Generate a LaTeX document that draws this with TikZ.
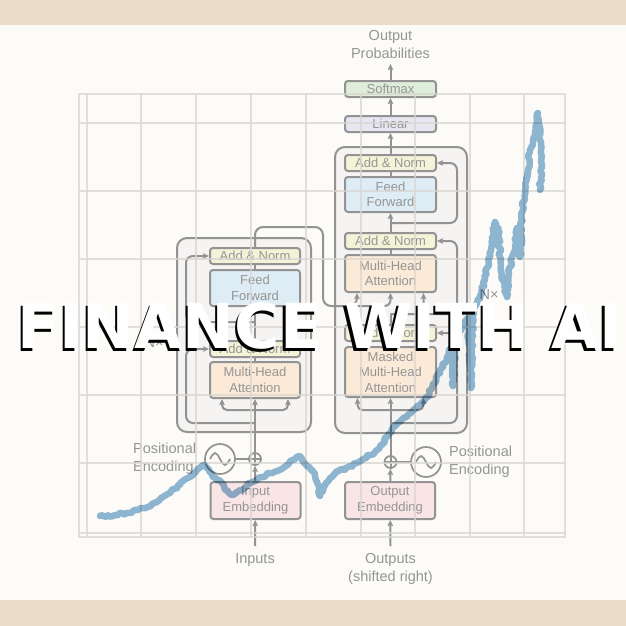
\documentclass[tikz,border=0pt]{standalone}
\usepackage{fontspec}
\setmainfont{Liberation Sans}
\newfontfamily\titlefont{DejaVu Sans}
\usetikzlibrary{arrows.meta,decorations.pathmorphing}
\definecolor{bandc}{HTML}{EADCC6}
\definecolor{bgc}{HTML}{FCFBF8}
\definecolor{linec}{HTML}{939393}
\definecolor{txtc}{HTML}{959595}
\definecolor{outerc}{HTML}{F6F4F2}
\definecolor{anc}{HTML}{F4F3D8}
\definecolor{ffc}{HTML}{DEEDF5}
\definecolor{mhac}{HTML}{FBEAD7}
\definecolor{embc}{HTML}{F9E5E5}
\definecolor{smc}{HTML}{DFEEDB}
\definecolor{linc}{HTML}{E8E7F1}
\definecolor{gridc}{HTML}{D9D6D1}
\definecolor{bluec}{HTML}{90B8D5}
\begin{document}
\begin{tikzpicture}[x=1pt,y=-1pt,
  blk/.style={draw=linec, line width=2.0, rounded corners=3, inner sep=0, align=center,
    font=\fontsize{13}{15.5}\selectfont, text=txtc},
  an/.style={blk, fill=anc, minimum width=90, minimum height=16},
  ff/.style={blk, fill=ffc, minimum width=90, minimum height=36},
  mha/.style={blk, fill=mhac, minimum width=90, minimum height=36},
  emb/.style={blk, fill=embc, minimum width=90, minimum height=37},
  outerbox/.style={draw=linec, fill=outerc, line width=2.0, rounded corners=10},
  ln/.style={draw=linec, line width=2.0},
  arr/.style={draw=linec, line width=2.0, -{Stealth[length=6pt,width=5.5pt,inset=1pt]}},
  lbl/.style={font=\fontsize{14.5}{18}\selectfont, text=txtc, inner sep=0},
  plus/.style={circle, draw=linec, line width=1.7, minimum size=12, inner sep=0, fill=bgc},
  sine/.style={circle, draw=linec, line width=1.7, minimum size=30, inner sep=0},
  gridline/.style={draw=gridc, line width=1.3, opacity=0.75}
]
\useasboundingbox (0,0) rectangle (626,626);
\fill[bgc] (0,0) rectangle (626,626);
\fill[bandc] (0,0) rectangle (626,25);
\fill[bandc] (0,600) rectangle (626,626);

% ---------------- encoder ----------------
\draw[outerbox] (177,238) rectangle (311,432);
\node[an] (eAN2) at (255,256) {Add \& Norm};
\node[ff] (eFF) at (255,288) {Feed\\Forward};
\node[an] (eAN1) at (255,349) {Add \& Norm};
\node[mha] (eMHA) at (255,380) {Multi-Head\\Attention};
\node[emb] (eEmb) at (255.5,500.5) {Input\\Embedding};
\node[plus] (ePlus) at (255,459) {};
\node[sine] (eSin) at (220,459) {};
\node[lbl, anchor=west, align=left] (ePos) at (133,459) {Positional\\Encoding};
\node[lbl] (eInLbl) at (255,560) {Inputs};
\node[lbl] (eN) at (154,343) {N×};
\coordinate (eIn) at (255,546);
\coordinate (eF) at (255,410);
\coordinate (eB1) at (255,423);
\coordinate (eB2) at (255,322);
\coordinate (eTop) at (323,227);

\draw[ln] (ePlus.north) -- (ePlus.south) (ePlus.west) -- (ePlus.east);
\draw[ln, line width=1.7] ([xshift=-10pt]eSin.center) sin ++(5,-6) cos ++(5,6) sin ++(5,6) cos ++(5,-6);
\draw[arr] (eIn) -- (eEmb);
\draw[arr] (eEmb) -- (ePlus);
\draw[ln] (eSin) -- (ePlus);
\draw[arr] (ePlus) -- (eMHA);
\draw[arr, rounded corners=5] (eF) -| ([xshift=-33pt]eMHA.south);
\draw[arr, rounded corners=5] (eF) -| ([xshift=33pt]eMHA.south);
\draw[arr, rounded corners=7] (eB1) -| ([xshift=-23pt]eAN1.west) -- (eAN1.west);
\draw[ln] (eMHA) -- (eAN1);
\draw[arr] (eAN1) -- (eFF);
\draw[arr, rounded corners=7] (eB2) -| ([xshift=-23pt]eAN2.west) -- (eAN2.west);
\draw[ln] (eFF) -- (eAN2);

% ---------------- decoder ----------------
\draw[outerbox] (335,147) rectangle (467,433);
\node[blk, fill=smc, minimum width=91, minimum height=16] (dSoft) at (390.5,89) {Softmax};
\node[blk, fill=linc, minimum width=91, minimum height=16] (dLin) at (390.5,124) {Linear};
\node[an, minimum width=91] (dAN3) at (390.5,163) {Add \& Norm};
\node[ff, minimum width=91, minimum height=35] (dFF) at (390.5,194.5) {Feed\\Forward};
\node[an, minimum width=91] (dAN2) at (390.5,241) {Add \& Norm};
\node[mha, minimum width=91, minimum height=37] (dMHA2) at (390.5,273.5) {Multi-Head\\Attention};
\node[an, minimum width=91] (dAN1) at (390.5,333) {Add \& Norm};
\node[mha, minimum width=91, minimum height=50] (dMHA1) at (390.5,372) {Masked\\Multi-Head\\Attention};
\node[emb] (dEmb) at (390,500.5) {Output\\Embedding};
\node[plus] (dPlus) at (390.5,462) {};
\node[sine] (dSin) at (426,462) {};
\node[lbl, anchor=west, align=left] (dPos) at (449,462) {Positional\\Encoding};
\node[lbl, align=center] (dOutLbl) at (390.5,568.5) {Outputs\\(shifted right)};
\node[lbl, align=center] (dProb) at (390.5,45) {Output\\Probabilities};
\node[lbl] (dN) at (489,295) {N×};
\coordinate (dIn) at (390.5,546);
\coordinate (dOut) at (390.5,64);
\coordinate (dF) at (390.5,410);
\coordinate (dB1) at (390.5,423);
\coordinate (dQ) at (390.5,314);
\coordinate (dB3) at (390.5,223);

\draw[ln] (dPlus.north) -- (dPlus.south) (dPlus.west) -- (dPlus.east);
\draw[ln, line width=1.7] ([xshift=-10pt]dSin.center) sin ++(5,-6) cos ++(5,6) sin ++(5,6) cos ++(5,-6);
\draw[arr] (dIn) -- (dEmb);
\draw[arr] (dEmb) -- (dPlus);
\draw[ln] (dPlus) -- (dSin);
\draw[arr] (dPlus) -- (dMHA1);
\draw[arr, rounded corners=5] (dF) -| ([xshift=-33pt]dMHA1.south);
\draw[arr, rounded corners=5] (dF) -| ([xshift=33pt]dMHA1.south);
\draw[arr, rounded corners=7] (dB1) -| ([xshift=20pt]dAN1.east) -- (dAN1.east);
\draw[ln] (dMHA1) -- (dAN1);
\draw[ln] (dAN1) -- (dQ);
\draw[arr, rounded corners=6] (dQ) -| ([xshift=33pt]dMHA2.south);
\draw[arr, rounded corners=7] (dQ) -| ([xshift=20pt]dAN2.east) -- (dAN2.east);
% encoder output into decoder
\draw[arr, rounded corners=8] (eAN2) |- (eTop) |- ([xshift=-33.5pt,yshift=-13pt]dMHA2.south) -- ([xshift=-33.5pt]dMHA2.south);
\draw[arr, rounded corners=6] ([xshift=-33.5pt,yshift=-13pt]dMHA2.south) -| (dMHA2.south);
\draw[ln] (dMHA2) -- (dAN2);
\draw[arr] (dAN2) -- (dFF);
\draw[arr, rounded corners=7] (dB3) -| ([xshift=20pt]dAN3.east) -- (dAN3.east);
\draw[ln] (dFF) -- (dAN3);
\draw[arr] (dAN3) -- (dLin);
\draw[arr] (dLin) -- (dSoft);
\draw[arr] (dSoft) -- (dOut);

% ---------------- chart grid ----------------
\draw[gridline] (79,94) rectangle (565,537);
\foreach \gx in {87,141,196,251,306,361,415,470,524} \draw[gridline] (\gx,94) -- (\gx,537);
\foreach \gy in {123,191,259,327,395,463,533} \draw[gridline] (79,\gy) -- (565,\gy);

% ---------------- price line ----------------
\begin{scope}[blend mode=multiply]
\draw[bluec, line width=6.5, line join=round, line cap=round,
  decorate, decoration={random steps, segment length=2.5pt, amplitude=1.4pt}]
 (100,516) -- (115,515) -- (127,513) -- (143,508) -- (157,502) -- (170,493) -- (183,481)
 -- (190,477) -- (197,470) -- (203,465) -- (207,468) -- (213,477) -- (222,483) -- (225,490)
 -- (232,495) -- (238,492) -- (247,485) -- (257,480) -- (270,473) -- (283,468) -- (293,460)
 -- (300,456) -- (307,466) -- (312,470) -- (317,482) -- (320,496) -- (324,487) -- (330,478)
 -- (339,471) -- (350,466) -- (357,463) -- (367,457) -- (377,450) -- (387,437) -- (397,424)
 -- (407,417) -- (413,410) -- (425,400) -- (433,384) -- (440,373) -- (447,357) -- (451,348)
 -- (453,386) -- (455,350) -- (458,333) -- (463,327) -- (468,318) -- (471,388) -- (473,315)
 -- (477,303) -- (482,290) -- (487,268) -- (492,245) -- (495,222) -- (498,231) -- (500,257)
 -- (503,280) -- (507,297) -- (509,273) -- (512,257) -- (515,247) -- (517,228) -- (520,257)
 -- (522,212) -- (525,190) -- (528,176) -- (530,150) -- (535,133) -- (537,120) -- (538,113)
 -- (540,140) -- (542,167) -- (540,190);
\end{scope}

% ---------------- title ----------------
\node[font=\titlefont\bfseries\fontsize{62}{62}\selectfont, text=black, anchor=base, inner sep=0] (tshadow) at (317.5,351) {FINANCE WITH AI};
\node[font=\titlefont\bfseries\fontsize{62}{62}\selectfont, text=white, anchor=base, inner sep=0] (title) at (320,348.5) {FINANCE WITH AI};
\end{tikzpicture}
\end{document}
